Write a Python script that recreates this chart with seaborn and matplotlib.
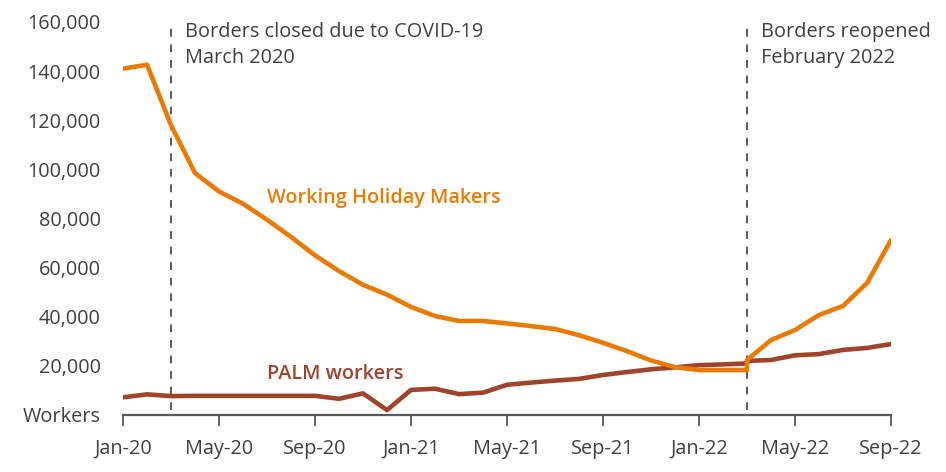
import matplotlib
matplotlib.use("Agg")
import matplotlib.pyplot as plt
import seaborn as sns
import pandas as pd

# ---- data ----
month_labels = ["Jan-20", "May-20", "Sep-20", "Jan-21", "May-21", "Sep-21", "Jan-22", "May-22", "Sep-22"]
tick_idx = [0, 4, 8, 12, 16, 20, 24, 28, 32]

# month index (0 = Jan-20); index 26 appears twice (series break at border reopening)
whm_x = list(range(0, 27)) + list(range(26, 33))
whm_y = [141000, 142600, 118000, 98500, 91000, 86000, 79500, 72500, 65000, 58600,
         53000, 49000, 44000, 40300, 38300, 38300, 37300, 36200, 35000, 32500,
         29400, 26000, 22200, 19500, 18300, 18300, 18300,
         22400, 30500, 34600, 40700, 44400, 53700, 71200]

palm_x = list(range(0, 27)) + list(range(26, 33))
palm_y = [7200, 8400, 7700, 7800, 7800, 7800, 7800, 7800, 7800, 6600,
          8800, 2000, 10200, 10700, 8500, 9100, 12300, 13200, 14000, 14700,
          16300, 17500, 18600, 19400, 20300, 20600, 21000,
          22000, 22400, 24300, 24800, 26500, 27300, 28900]

events_x = [2, 26]
events_text = ["Borders closed due to COVID-19\nMarch 2020", "Borders reopened\nFebruary 2022"]

y_ticks = [0, 20000, 40000, 60000, 80000, 100000, 120000, 140000, 160000]

# ---- style ----
sns.set_style("white")
plt.rcParams['font.family'] = ['Open Sans', 'DejaVu Sans']
TXT = "#404040"
AX = "#595959"
ORANGE = "#EB7A05"
BROWN = "#A0432B"
FS = 14.3

fig = plt.figure(figsize=(9.46, 4.72), dpi=100)
ax = fig.add_axes([123/946, 57/472, (891-123)/946, (415-22)/472])

whm = pd.DataFrame({"x": whm_x, "y": whm_y})
palm = pd.DataFrame({"x": palm_x, "y": palm_y})

sns.lineplot(data=palm, x="x", y="y", sort=False, estimator=None, color=BROWN, lw=3.3, ax=ax)
sns.lineplot(data=whm, x="x", y="y", sort=False, estimator=None, color=ORANGE, lw=3.3, ax=ax)

for ex, et in zip(events_x, events_text):
    ax.axvline(ex, ymin=0.012, ymax=0.998, color=AX, ls=(0, (4, 4)), lw=1.4, zorder=1)
    ax.text(ex + 0.6, 160200, et, ha="left", va="top", fontsize=FS, color=TXT,
            linespacing=1.42)

ax.text(6, 88500, "Working Holiday Makers", color=ORANGE, fontsize=FS, fontweight="semibold",
        ha="left", va="center")
ax.text(6, 16700, "PALM workers", color=BROWN, fontsize=FS, fontweight="semibold",
        ha="left", va="center")

ax.set_xlim(0, 32)
ax.set_ylim(0, 160000)
ax.set_xticks(tick_idx)
ax.set_xticklabels(month_labels)
ax.set_yticks(y_ticks)
ax.set_yticklabels(["Workers"] + [f"{v:,}" for v in y_ticks[1:]])
ax.tick_params(axis="x", direction="out", length=8, width=1.3, color=AX, labelsize=FS,
               labelcolor=TXT, pad=9, bottom=True)
ax.tick_params(axis="y", length=0, labelsize=FS, labelcolor=TXT, pad=16)
ax.set_xlabel("")
ax.set_ylabel("")
for s in ["left", "right", "top"]:
    ax.spines[s].set_visible(False)
ax.spines["bottom"].set_color(AX)
ax.spines["bottom"].set_linewidth(1.6)

fig.savefig("out.png", dpi=100)
